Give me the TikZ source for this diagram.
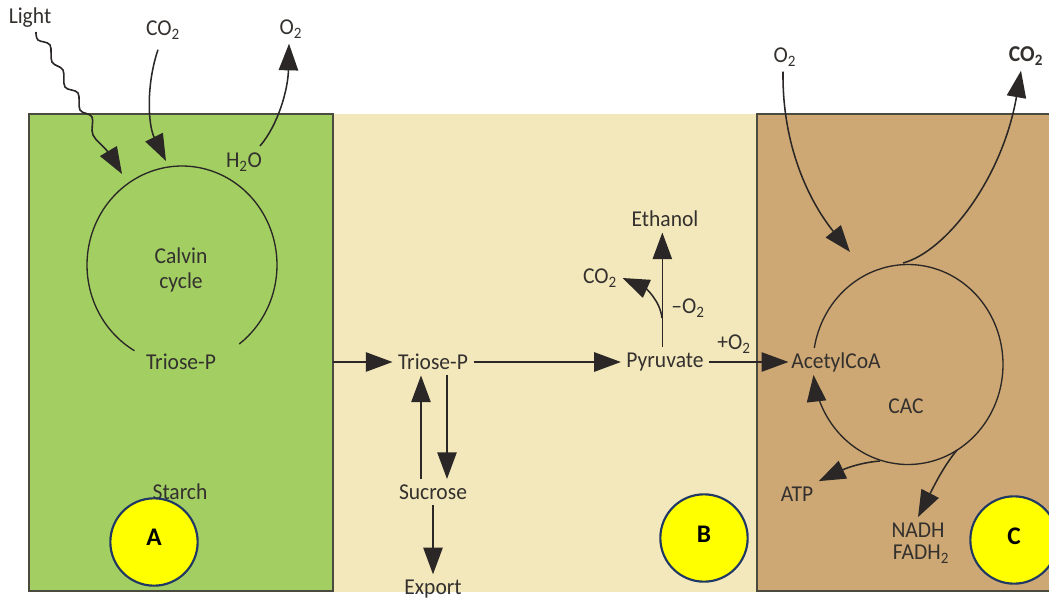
\documentclass[tikz,border=0pt]{standalone}
\usepackage{fontspec}
\setmainfont{Carlito}
\newfontfamily\labfont[FakeStretch=0.95]{Carlito}
\usetikzlibrary{arrows.meta}
\definecolor{leaf}{HTML}{A2CE62}
\definecolor{cyto}{HTML}{F3E8BC}
\definecolor{mito}{HTML}{CDA874}
\definecolor{edge}{HTML}{4A4A3E}
\definecolor{ink}{HTML}{2A2726}
\definecolor{txt}{HTML}{33302E}
\definecolor{ring}{HTML}{1F3864}
\definecolor{yel}{RGB}{255,255,0}
\tikzset{
  region/.style={draw=edge,line width=1.5pt,anchor=north west,inner sep=0pt,outer sep=0pt},
  lab/.style={text=txt,font=\labfont\fontsize{17}{18}\selectfont,inner sep=4pt},
  flow/.style={draw=ink,line width=1.15pt,-{Triangle[length=20pt,width=14.5pt]}},
  curve/.style={draw=ink,line width=1pt},
  badge/.style={circle,draw=ring,line width=1.6pt,fill=yel,minimum size=65.5pt,inner sep=0pt},
  badgetext/.style={text=black,font=\fontsize{19}{21}\bfseries\selectfont,inner sep=0pt}
}
\newcommand{\sub}[1]{\textsubscript{#1}}
\begin{document}
\begin{tikzpicture}[x=0.75pt,y=-0.75pt]
\useasboundingbox (0,0) rectangle (1049,599);
\clip (0,0) rectangle (1049,599);
\fill[white] (0,0) rectangle (1049,599);
% regions
\fill[cyto] (333,114) rectangle (757,592);
\node[region,fill=leaf,minimum width=228pt,minimum height=358pt] (chloro) at (29,114) {};
\node[region,fill=mito,minimum width=240pt,minimum height=358pt] (mitoc) at (757,114) {};
% labels
\node[lab] (light) at (30,18) {Light};
\node[lab] (co2a) at (163,30) {CO\sub{2}};
\node[lab] (o2a) at (291,29) {O\sub{2}};
\node[lab] (h2o) at (244,162) {H\sub{2}O};
\node[lab] (calvin) at (181,256) {Calvin};
\node[lab] (cycle) at (181,282) {cycle};
\node[lab] (trioseA) at (181,362) {Triose-P};
\node[lab] (starch) at (180,492) {Starch};
\node[lab] (trioseB) at (433,362) {Triose-P};
\node[lab] (sucrose) at (433,492) {Sucrose};
\node[lab] (export) at (433,589) {Export};
\node[lab] (ethanol) at (665,219) {Ethanol};
\node[lab] (co2b) at (600,278) {CO\sub{2}};
\node[lab] (minus) at (688,308) {–O\sub{2}};
\node[lab] (pyr) at (665,362) {Pyruvate};
\node[lab] (plus) at (734,344) {+O\sub{2}};
\node[lab,inner sep=2pt] (acetyl) at (836,362) {AcetylCoA};
\node[lab] (cac) at (906,406) {CAC};
\node[lab] (atp) at (797,494) {ATP};
\node[lab] (nadh) at (918,530) {NADH};
\node[lab] (fadh) at (921,554) {FADH\sub{2}};
\node[lab] (o2b) at (785,57) {O\sub{2}};
\node[lab,font=\labfont\fontsize{17}{18}\bfseries\selectfont] (co2c) at (1026,56) {CO\sub{2}};
% free curve ends
\coordinate (lightend) at (122,174);
\coordinate (co2end) at (166,161);
\coordinate (calvintop) at (260,146);
\coordinate (cacin) at (850,252);
\coordinate (cactop) at (903,263);
\coordinate (atpstart) at (880,461);
\coordinate (nadhstart) at (957,450);
\coordinate (branch) at (662,318);
% cycles
\draw[curve,domain=120:413,samples=120,smooth] plot ({182+95*cos(\x)},{265+99*sin(\x)});
\draw[flow,line width=1pt,domain=189.5:534,samples=140,smooth] plot ({908+95*cos(\x)},{364.5+100*sin(\x)});
% curved connectors
\draw[flow,line width=1.2pt] plot[smooth,tension=0.6] coordinates {(36,32) (38,40) (50,45) (52,62) (63,70) (65,87) (78,93) (80,110) (92,117) (93,135) (108,152) (lightend)};
\draw[flow] ([shift={(-5,5)}]co2a.south) .. controls (146,85) and (148,125) .. (co2end);
\draw[flow] (calvintop) .. controls (278,125) and (288,90) .. ([shift={(-2,0)}]o2a.south);
\draw[flow] ([shift={(-2,0)}]o2b.south) .. controls (782,150) and (812,205) .. (cacin);
\draw[flow] (cactop) .. controls (945,252) and (1002,180) .. ([shift={(-5,0)}]co2c.south);
\draw[flow] (atpstart) .. controls (855,463) and (838,472) .. (atp.north east);
\draw[flow] (nadhstart) .. controls (944,466) and (936,482) .. (nadh.north);
\draw[flow] (branch) .. controls (660,300) and (645,288) .. (co2b.east);
% straight connectors
\draw[flow] (chloro.east |- trioseB) -- (trioseB.west);
\draw[flow] (trioseB.east) -- (pyr.west);
\draw[flow] ([xshift=-9pt]sucrose.north) -- ([xshift=-9pt]trioseB.south);
\draw[flow] ([xshift=10.5pt]trioseB.south) -- ([xshift=10.5pt]sucrose.north);
\draw[flow] (sucrose.south) -- (export.north);
\draw[flow] ([xshift=-2pt]pyr.north) -- ([xshift=-2pt]ethanol.south);
\draw[flow,line width=0.8pt] (pyr.east) -- (acetyl.west);
% badges
\node[badge] (a) at (154,542) {};
\node[badgetext] at (154,537) {A};
\node[badge] (b) at (704,538) {};
\node[badgetext] at (704,534) {B};
\node[badge] (c) at (1014,540) {};
\node[badgetext] at (1014,536) {C};
\end{tikzpicture}
\end{document}
